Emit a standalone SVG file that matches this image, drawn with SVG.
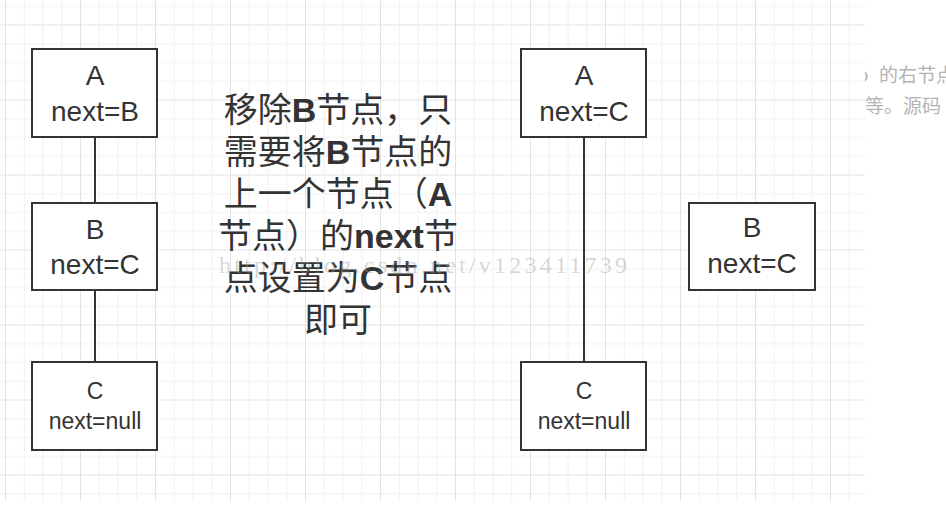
<svg xmlns="http://www.w3.org/2000/svg" width="946" height="511" viewBox="0 0 946 511">
<style>
.box{fill:#fff;stroke:#333;stroke-width:2}
.lbl{font-family:"Liberation Sans",Arial,sans-serif;fill:#333;text-anchor:middle}
.big{font-size:28px}
.sm{font-size:23px}
.conn{stroke:#333;stroke-width:2;fill:none}
.cn{font-family:"Noto Sans CJK SC","Noto Sans",sans-serif;font-size:34px;fill:#333;text-anchor:middle}
.cn tspan.b{font-family:"Liberation Sans",Arial,sans-serif;font-weight:bold}
.page{font-family:"Noto Sans CJK SC","Noto Sans",sans-serif;font-size:19px;fill:#b3b3b3}
.wm{font-family:"Liberation Serif","Times New Roman",serif;font-size:24px;fill:#999;fill-opacity:0.4}
</style>
<defs>
<pattern id="grid" patternUnits="userSpaceOnUse" x="5" y="24.5" width="75" height="75">
<path d="M19.25 0V75M38 0V75M56.75 0V75M0 19.25H75M0 38H75M0 56.75H75" stroke="#f0f0f0" stroke-width="1" fill="none"/>
<path d="M0.5 0V75M0 0.5H75" stroke="#e3e3e3" stroke-width="1" fill="none"/>
</pattern>
</defs>
<rect width="946" height="511" fill="#fff"/>
<g id="page-text">
<text class="page" x="857" y="82">o</text>
<text class="page" x="879" y="82">的右节点</text>
<text class="page" x="865" y="113">等。源码</text>
</g>
<rect x="0" y="0" width="865" height="501" fill="#fff"/>
<rect x="0" y="0" width="865" height="501" fill="url(#grid)"/>
<g id="connectors">
<line class="conn" x1="95" y1="137" x2="95" y2="203"/>
<line class="conn" x1="95" y1="290" x2="95" y2="362"/>
<line class="conn" x1="584" y1="137" x2="584" y2="362"/>
</g>
<g id="nodeA1">
<rect class="box" x="32" y="49" width="125" height="88"/>
<text class="lbl big" x="95" y="85">A</text>
<text class="lbl big" x="95" y="121">next=B</text>
</g>
<g id="nodeB1">
<rect class="box" x="32" y="203" width="125" height="87"/>
<text class="lbl big" x="95" y="239">B</text>
<text class="lbl big" x="95" y="274">next=C</text>
</g>
<g id="nodeC1">
<rect class="box" x="32" y="362" width="125" height="88"/>
<text class="lbl sm" x="95" y="399">C</text>
<text class="lbl sm" x="95" y="429">next=null</text>
</g>
<g id="nodeA2">
<rect class="box" x="521" y="49" width="125" height="88"/>
<text class="lbl big" x="584" y="85">A</text>
<text class="lbl big" x="584" y="121">next=C</text>
</g>
<g id="nodeB2">
<rect class="box" x="689" y="203" width="126" height="87"/>
<text class="lbl big" x="752" y="237">B</text>
<text class="lbl big" x="752" y="273">next=C</text>
</g>
<g id="nodeC2">
<rect class="box" x="521" y="362" width="125" height="88"/>
<text class="lbl sm" x="584" y="399">C</text>
<text class="lbl sm" x="584" y="429">next=null</text>
</g>
<g id="note">
<text class="cn" x="338" y="122">移除<tspan class="b">B</tspan>节点，只</text>
<text class="cn" x="338" y="164">需要将<tspan class="b">B</tspan>节点的</text>
<text class="cn" x="338" y="206">上一个节点（<tspan class="b">A</tspan></text>
<text class="cn" x="338" y="248">节点）的<tspan class="b">next</tspan>节</text>
<text class="cn" x="338" y="290">点设置为<tspan class="b">C</tspan>节点</text>
<text class="cn" x="338" y="332">即可</text>
</g>
<text class="wm" x="219" y="273" textLength="408" lengthAdjust="spacing">http://blog.csdn.net/v123411739</text>
</svg>
